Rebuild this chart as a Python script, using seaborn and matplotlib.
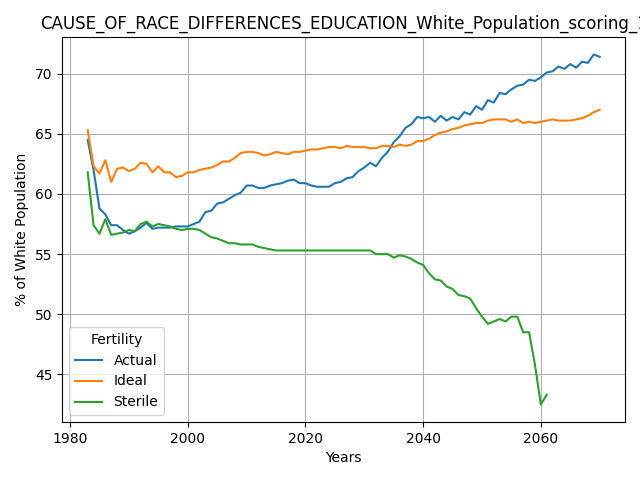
import matplotlib
matplotlib.use("Agg")
import matplotlib.pyplot as plt
import pandas as pd
import seaborn as sns

years_full = list(range(1983, 2071))
actual = [64.5, 62.0, 58.8, 58.3, 57.4, 57.4, 57.0, 56.7, 56.9, 57.2, 57.6, 57.1, 57.2, 57.2, 57.2,
          57.3, 57.3, 57.3, 57.5, 57.7, 58.5, 58.6, 59.2, 59.3, 59.6, 59.9, 60.1, 60.7, 60.7, 60.5,
          60.5, 60.7, 60.8, 60.9, 61.1, 61.2, 60.9, 60.9, 60.7, 60.6, 60.6, 60.6, 60.9, 61.0, 61.3,
          61.4, 61.9, 62.2, 62.6, 62.3, 63.0, 63.5, 64.3, 64.8, 65.5, 65.8, 66.4, 66.3, 66.4, 66.0,
          66.5, 66.1, 66.4, 66.2, 66.8, 66.6, 67.3, 67.0, 67.8, 67.6, 68.4, 68.3, 68.7, 69.0, 69.1,
          69.5, 69.4, 69.7, 70.1, 70.2, 70.6, 70.4, 70.8, 70.5, 71.0, 70.9, 71.6, 71.4]
ideal = [65.3, 62.3, 61.7, 62.8, 61.0, 62.1, 62.2, 61.9, 62.1, 62.6, 62.5, 61.8, 62.3, 61.8, 61.8,
         61.4, 61.5, 61.8, 61.8, 62.0, 62.1, 62.2, 62.4, 62.7, 62.7, 63.0, 63.4, 63.5, 63.5, 63.4,
         63.2, 63.3, 63.5, 63.4, 63.3, 63.5, 63.5, 63.6, 63.7, 63.7, 63.8, 63.9, 63.9, 63.8, 64.0,
         63.9, 63.9, 63.9, 63.8, 63.8, 64.0, 64.0, 63.9, 64.1, 64.0, 64.1, 64.4, 64.4, 64.6, 64.9,
         65.1, 65.2, 65.4, 65.5, 65.7, 65.8, 65.9, 65.9, 66.1, 66.2, 66.2, 66.2, 66.0, 66.2, 65.9,
         66.0, 65.9, 66.0, 66.1, 66.2, 66.1, 66.1, 66.1, 66.2, 66.3, 66.5, 66.8, 67.0]
years_sterile = list(range(1983, 2062))
sterile = [61.8, 57.4, 56.7, 57.9, 56.6, 56.7, 56.8, 57.0, 56.9, 57.5, 57.7, 57.3, 57.5, 57.4, 57.3,
           57.1, 57.0, 57.1, 57.1, 57.0, 56.7, 56.4, 56.3, 56.1, 55.9, 55.9, 55.8, 55.8, 55.8, 55.6,
           55.5, 55.4, 55.3] + [55.3] * 16 + [
           55.0, 55.0, 55.0, 54.7, 54.9, 54.8, 54.6, 54.3, 54.1, 53.4, 52.9, 52.8, 52.3, 52.1, 51.6,
           51.5, 51.3, 50.5, 49.8, 49.2, 49.4, 49.6, 49.4, 49.8, 49.8, 48.5, 48.5, 45.8, 42.5, 43.3]

df = pd.concat([
    pd.DataFrame({"Years": years_full, "value": actual, "Fertility": "Actual"}),
    pd.DataFrame({"Years": years_full, "value": ideal, "Fertility": "Ideal"}),
    pd.DataFrame({"Years": years_sterile, "value": sterile, "Fertility": "Sterile"}),
])

fig = plt.figure(figsize=(6.4, 4.8), dpi=100)
ax = fig.add_axes([0.097, 0.121, 0.88, 0.802])
sns.lineplot(data=df, x="Years", y="value", hue="Fertility",
             palette=["#1f77b4", "#ff7f0e", "#2ca02c"], ax=ax)
ax.grid(True)
ax.set_ylabel("% of White Population")
ax.set_xlabel("Years")
ax.set_title("CAUSE_OF_RACE_DIFFERENCES_EDUCATION_White_Population_scoring_1")
ax.legend(title="Fertility", loc="lower left")
fig.savefig("out.png")
